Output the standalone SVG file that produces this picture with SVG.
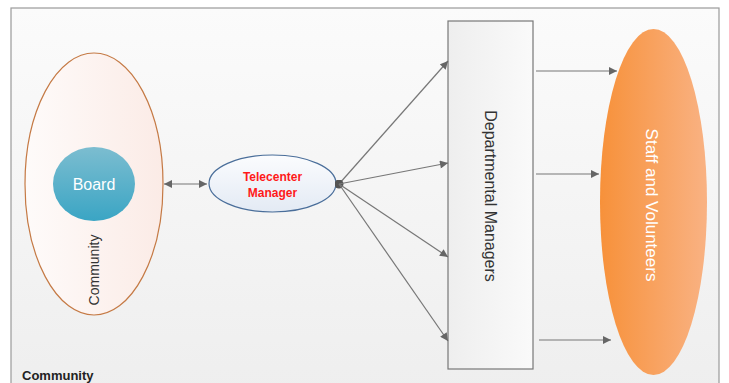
<svg xmlns="http://www.w3.org/2000/svg" width="729" height="383" viewBox="0 0 729 383">
<defs>
<linearGradient id="bg" x1="0" y1="0" x2="0" y2="1"><stop offset="0" stop-color="#fbfbfb"/><stop offset="1" stop-color="#eeeeee"/></linearGradient>
<linearGradient id="comm" x1="0" y1="0" x2="1" y2="0"><stop offset="0" stop-color="#fefbfa"/><stop offset="1" stop-color="#fbebe6"/></linearGradient>
<linearGradient id="board" x1="0" y1="0" x2="0" y2="1"><stop offset="0" stop-color="#7cbdd0"/><stop offset="1" stop-color="#3aa5c4"/></linearGradient>
<linearGradient id="tm" x1="0" y1="0" x2="0" y2="1"><stop offset="0" stop-color="#fbfcfe"/><stop offset="1" stop-color="#e3eaf4"/></linearGradient>
<linearGradient id="dm" x1="0" y1="0" x2="1" y2="0"><stop offset="0" stop-color="#eeeeee"/><stop offset="1" stop-color="#fafafa"/></linearGradient>
<linearGradient id="sv" x1="0" y1="0" x2="1" y2="0"><stop offset="0" stop-color="#f7913a"/><stop offset="1" stop-color="#f9b283"/></linearGradient>
<marker id="ah" viewBox="0 0 10 10" refX="10" refY="5" markerWidth="9" markerHeight="8" markerUnits="userSpaceOnUse" orient="auto-start-reverse"><path d="M0,0 L10,5 L0,10 z" fill="#666"/></marker>
<marker id="dot" viewBox="0 0 10 10" refX="5" refY="5" markerWidth="9" markerHeight="9" markerUnits="userSpaceOnUse"><circle cx="5" cy="5" r="5" fill="#555"/></marker>
</defs>
<style>
.ln{stroke:#777;stroke-width:1.2;fill:none}
.t{font-family:"Liberation Sans",Arial,sans-serif}
</style>
<rect width="729" height="383" fill="#fff"/>
<rect x="11" y="8" width="708" height="390" fill="url(#bg)" stroke="#9a9a9a" stroke-width="1.2"/>
<text class="t" x="22" y="380" font-size="13" font-weight="bold" fill="#222">Community</text>
<g id="community">
<ellipse cx="94" cy="184" rx="69" ry="131" fill="url(#comm)" stroke="#c57a45" stroke-width="1.2"/>
<text class="t" transform="translate(99,270) rotate(-90)" text-anchor="middle" font-size="14" fill="#333">Community</text>
</g>
<g id="board">
<ellipse cx="94" cy="184" rx="41" ry="37" fill="url(#board)"/>
<text class="t" x="94" y="190" text-anchor="middle" font-size="16" fill="#fff">Board</text>
</g>
<g id="telecenter-manager">
<ellipse cx="272.5" cy="183.5" rx="63.5" ry="28.5" fill="url(#tm)" stroke="#4a6e9a" stroke-width="1.2"/>
<text class="t" x="272.5" y="181" text-anchor="middle" font-size="12" font-weight="bold" fill="#ff1a1a">Telecenter</text>
<text class="t" x="272.5" y="197" text-anchor="middle" font-size="12" font-weight="bold" fill="#ff1a1a">Manager</text>
</g>
<g id="departmental-managers">
<rect x="448" y="21" width="85" height="348" fill="url(#dm)" stroke="#777" stroke-width="1.2"/>
<text class="t" transform="translate(485,196) rotate(90)" text-anchor="middle" font-size="16" fill="#333">Departmental Managers</text>
</g>
<g id="staff-volunteers">
<ellipse cx="653.5" cy="202" rx="53.5" ry="173" fill="url(#sv)"/>
<text class="t" transform="translate(646,205) rotate(90)" text-anchor="middle" font-size="17" fill="#fff">Staff and Volunteers</text>
</g>
<g id="connectors">
<line class="ln" x1="164" y1="184" x2="207" y2="184" marker-start="url(#ah)" marker-end="url(#ah)"/>
<line class="ln" x1="339" y1="184" x2="448" y2="61" marker-start="url(#dot)" marker-end="url(#ah)"/>
<line class="ln" x1="339" y1="184" x2="448" y2="163" marker-end="url(#ah)"/>
<line class="ln" x1="339" y1="184" x2="448" y2="257" marker-end="url(#ah)"/>
<line class="ln" x1="339" y1="184" x2="448" y2="341" marker-end="url(#ah)"/>
<line class="ln" x1="536" y1="71" x2="617" y2="71" marker-end="url(#ah)"/>
<line class="ln" x1="536" y1="174" x2="599" y2="174" marker-end="url(#ah)"/>
<line class="ln" x1="539" y1="340" x2="611" y2="340" marker-end="url(#ah)"/>
</g>
</svg>
